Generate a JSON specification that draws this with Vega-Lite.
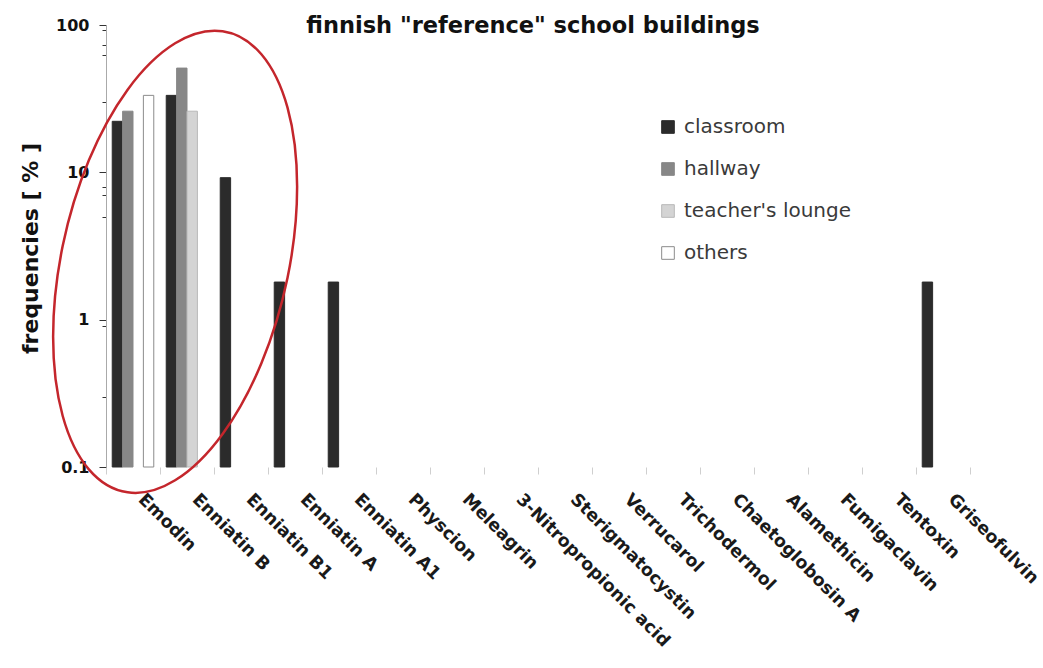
{
  "$schema": "https://vega.github.io/schema/vega-lite/v6.json",
  "width": 864,
  "height": 442,
  "autosize": {"type": "none"},
  "padding": {"left": 106, "top": 25, "right": 73, "bottom": 201},
  "background": "white",
  "config": {
    "view": {"stroke": null},
    "font": "DejaVu Sans"
  },
  "title": {
    "text": "finnish \"reference\" school buildings",
    "font": "DejaVu Sans",
    "fontSize": 22.5,
    "fontWeight": "bold",
    "color": "#111",
    "anchor": "middle",
    "frame": "group",
    "offset": -20,
    "dx": -5
  },
  "encoding": {
    "x": {
      "field": "compound",
      "type": "nominal",
      "sort": null,
      "scale": {
        "domain": ["Emodin", "Enniatin B", "Enniatin B1", "Enniatin A", "Enniatin A1", "Physcion", "Meleagrin", "3-Nitropropionic acid", "Sterigmatocystin", "Verrucarol", "Trichodermol", "Chaetoglobosin A", "Alamethicin", "Fumigaclavin", "Tentoxin", "Griseofulvin"],
        "paddingInner": 0,
        "paddingOuter": 0
      },
      "axis": {
        "title": null,
        "domain": false,
        "tickBand": "extent",
        "ticks": true,
        "tickColor": "#cfcfcf",
        "tickSize": 7,
        "labelAngle": 45,
        "labelAlign": "left",
        "labelBaseline": "top",
        "labelPadding": 16,
        "labelOffset": 14,
        "labelFont": "DejaVu Sans",
        "labelFontSize": 17.5,
        "labelFontWeight": "bold",
        "labelColor": "#1a1a1a",
        "labelOverlap": false,
        "labelLimit": 400
      }
    },
    "y": {
      "field": "value",
      "type": "quantitative",
      "stack": null,
      "scale": {"type": "log", "domain": [0.1, 100], "nice": false},
      "axis": {
        "title": "frequencies [ % ]",
        "titleFont": "DejaVu Sans",
        "titleFontSize": 22,
        "titleFontWeight": "bold",
        "titleColor": "#111",
        "titleAngle": 270,
        "titleAlign": "center",
        "titleBaseline": "alphabetic",
        "titleX": -69,
        "titleY": 223,
        "values": [0.1, 0.3, 0.9, 1, 5, 7, 8, 10, 30, 63, 73, 93, 100],
        "labelExpr": "indexof([0.1, 1, 10, 100], datum.value) >= 0 ? datum.label : ''",
        "format": "~g",
        "grid": false,
        "domainColor": "#aaaaaa",
        "domainWidth": 1,
        "tickColor": "#333",
        "tickSize": {"condition": {"test": "indexof([0.1, 1, 10, 100], datum.value) >= 0", "value": 7}, "value": 4},
        "labelFont": "DejaVu Sans",
        "labelFontSize": 16,
        "labelFontWeight": "bold",
        "labelColor": "#111",
        "labelPadding": 10
      }
    }
  },
  "layer": [
    {
      "data": {
        "values": [
          {"compound": "Emodin", "series": "classroom", "value": 22.2},
          {"compound": "Emodin", "series": "hallway", "value": 26},
          {"compound": "Emodin", "series": "others", "value": 33.3},
          {"compound": "Enniatin B", "series": "classroom", "value": 33.3},
          {"compound": "Enniatin B", "series": "hallway", "value": 51},
          {"compound": "Enniatin B", "series": "teacher's lounge", "value": 26},
          {"compound": "Enniatin B1", "series": "classroom", "value": 9.2},
          {"compound": "Enniatin A", "series": "classroom", "value": 1.8},
          {"compound": "Enniatin A1", "series": "classroom", "value": 1.8},
          {"compound": "Griseofulvin", "series": "classroom", "value": 1.8}
        ]
      },
      "mark": {"type": "bar", "strokeWidth": 1},
      "encoding": {
        "xOffset": {
          "field": "series",
          "type": "nominal",
          "scale": {"domain": ["classroom", "hallway", "teacher's lounge", "others"], "paddingInner": 0, "paddingOuter": 0.6}
        },
        "fill": {
          "field": "series",
          "type": "nominal",
          "scale": {"domain": ["classroom", "hallway", "teacher's lounge", "others"], "range": ["#2b2b2b", "#878787", "#d4d4d4", "#ffffff"]},
          "legend": {
            "title": null,
            "orient": "none",
            "legendX": 552,
            "legendY": 92,
            "symbolType": "square",
            "symbolSize": 160,
            "symbolStrokeWidth": 1,
            "labelFont": "DejaVu Sans",
            "labelFontSize": 20,
            "labelColor": "#3a3a3a",
            "labelLimit": 300,
            "rowPadding": 22,
            "labelOffset": 6,
            "padding": 0
          }
        },
        "stroke": {
          "field": "series",
          "type": "nominal",
          "scale": {"domain": ["classroom", "hallway", "teacher's lounge", "others"], "range": ["#2b2b2b", "#878787", "#b8b8b8", "#8c8c8c"]},
          "legend": {
            "title": null,
            "orient": "none",
            "legendX": 552,
            "legendY": 92,
            "symbolType": "square",
            "symbolSize": 160,
            "labelFont": "DejaVu Sans",
            "labelFontSize": 20,
            "labelColor": "#3a3a3a",
            "labelLimit": 300,
            "rowPadding": 22,
            "labelOffset": 6,
            "padding": 0
          }
        }
      }
    },
    {
      "data": {"values": [{"compound": "Enniatin B", "value": 2.47}]},
      "mark": {
        "type": "point",
        "shape": "M1.22,-0.75C1.22,0.4568,0.6738,1.7708,0,2.185C-0.6738,2.5992,-1.22,1.9568,-1.22,0.75C-1.22,-0.4568,-0.6738,-1.7708,0,-2.185C0.6738,-2.5992,1.22,-1.9568,1.22,-0.75Z",
        "size": 40000,
        "filled": false,
        "stroke": "#c4262c",
        "strokeWidth": 2.5,
        "opacity": 1
      },
      "encoding": {
        "x": {"field": "compound", "type": "nominal", "bandPosition": 0.28}
      }
    }
  ]
}
